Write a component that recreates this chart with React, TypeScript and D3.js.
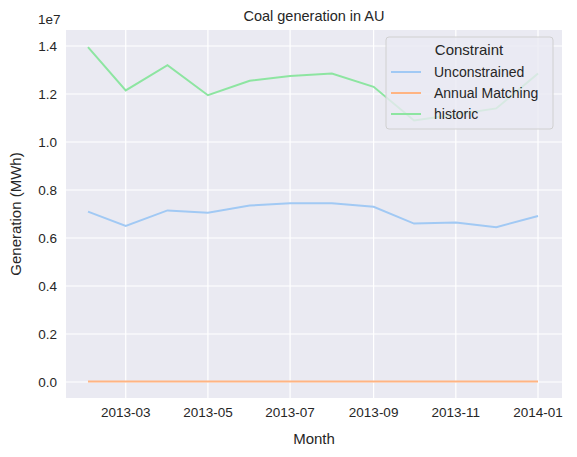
import React from "react";
import * as d3 from "d3";

const months = ["2013-02-01","2013-03-01","2013-04-01","2013-05-01","2013-06-01","2013-07-01","2013-08-01","2013-09-01","2013-10-01","2013-11-01","2013-12-01","2014-01-01"];
const unconstrained = [7.1,6.5,7.15,7.05,7.35,7.45,7.45,7.3,6.6,6.65,6.45,6.92].map(v=>v*1e6);
const annual = [0.02,0.02,0.02,0.02,0.02,0.02,0.02,0.02,0.02,0.02,0.02,0.02].map(v=>v*1e6);
const historic = [13.95,12.15,13.2,11.95,12.55,12.75,12.85,12.3,10.9,11.15,11.4,12.85].map(v=>v*1e6);
const xTicks = ["2013-03-01","2013-05-01","2013-07-01","2013-09-01","2013-11-01","2014-01-01"];
const xTickLabels = ["2013-03","2013-05","2013-07","2013-09","2013-11","2014-01"];
const yTicks = [0,0.2,0.4,0.6,0.8,1.0,1.2,1.4];
const series = [
  {name:"Unconstrained", values: unconstrained, color:"#a1c9f4"},
  {name:"Annual Matching", values: annual, color:"#ffb482"},
  {name:"historic", values: historic, color:"#8de5a1"},
];

export default function App(){
  const W=577,H=457,L=66,R=562,T=30,B=398;
  const dates = months.map(m=>new Date(m));
  const x = d3.scaleTime().domain([new Date("2013-02-01"), new Date("2014-01-01")]).range([88,538]);
  const y = d3.scaleLinear().domain([0,1.4e7]).range([382,46]);
  const line = d3.line<number>().x((_,i)=>x(dates[i])).y(d=>y(d));
  const f = "Liberation Sans, Arial, sans-serif";
  return (
    <svg width={W} height={H} style={{position:"absolute",left:0,top:0}} fontFamily={f}>
      <rect width={W} height={H} fill="#fff"/>
      <rect x={L} y={T} width={R-L} height={B-T} fill="#eaeaf2"/>
      {xTicks.map((t,i)=>{const px=x(new Date(t));return <g key={t}>
        <line x1={px} x2={px} y1={T} y2={B} stroke="#fff" strokeWidth={1.2}/>
        <text x={px} y={B+19} textAnchor="middle" fontSize={13.5} fill="#262626">{xTickLabels[i]}</text></g>;})}
      {yTicks.map(t=>{const py=y(t*1e7);return <g key={t}>
        <line x1={L} x2={R} y1={py} y2={py} stroke="#fff" strokeWidth={1.2}/>
        <text x={L-9} y={py+5} textAnchor="end" fontSize={13.5} fill="#262626">{t.toFixed(1)}</text></g>;})}
      <text x={L-28} y={T-6} fontSize={13.5} fill="#262626">1e7</text>
      {series.map(s=><path key={s.name} d={line(s.values)!} fill="none" stroke={s.color} strokeWidth={2}/>)}
      <text x={(L+R)/2} y={21} textAnchor="middle" fontSize={14.5} fill="#262626">Coal generation in AU</text>
      <text x={(L+R)/2} y={444} textAnchor="middle" fontSize={15} fill="#262626">Month</text>
      <text transform={`translate(21,${(T+B)/2}) rotate(-90)`} textAnchor="middle" fontSize={15} fill="#262626">Generation (MWh)</text>
      <g>
        <rect x={386} y={37} width={167} height={92} rx={3} fill="#eaeaf2" fillOpacity={0.8} stroke="#d0d0d0"/>
        <text x={469} y={55} textAnchor="middle" fontSize={15} fill="#262626">Constraint</text>
        {series.map((s,i)=><g key={s.name}>
          <line x1={391} x2={421} y1={72+i*21} y2={72+i*21} stroke={s.color} strokeWidth={2}/>
          <text x={434} y={77+i*21} fontSize={14} fill="#262626">{s.name}</text></g>)}
      </g>
    </svg>
  );
}
